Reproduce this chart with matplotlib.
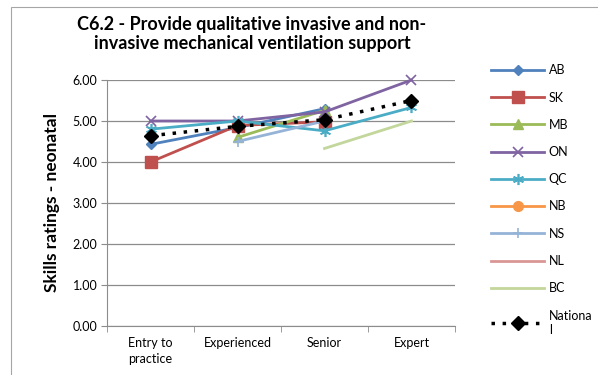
import numpy as np
import matplotlib
matplotlib.use("Agg")
import matplotlib.pyplot as plt
from matplotlib.patches import Rectangle

plt.rcParams['font.family'] = ['Lato', 'DejaVu Sans']

# categories and series
levels = ['Entry to\npractice', 'Experienced', 'Senior', 'Expert']
nan = np.nan
ab = [4.43, 4.84, 5.30, nan]
sk = [4.00, 4.89, 4.98, nan]
mb = [nan, 4.60, 5.26, nan]
on = [5.00, 5.00, 5.22, 6.00]
qc = [4.80, 5.00, 4.76, 5.33]
nb = [nan, nan, nan, nan]
ns = [nan, 4.50, 5.00, nan]
nl = [nan, nan, nan, nan]
bc = [nan, nan, 4.33, 5.00]
national = [4.64, 4.87, 5.03, 5.50]

series = [
    ('AB', ab, '#4F81BD', 'D', 5),
    ('SK', sk, '#C0504D', 's', 8),
    ('MB', mb, '#9BBB59', '^', 7),
    ('ON', on, '#8064A2', 'x', 7),
    ('QC', qc, '#4BACC6', (6, 2, 0), 8),
    ('NB', nb, '#F79646', 'o', 7),
    ('NS', ns, '#95B3D7', '+', 7),
    ('NL', nl, '#D99694', None, 0),
    ('BC', bc, '#C3D69B', None, 0),
]

fig = plt.figure(figsize=(5.98, 3.75), dpi=100)
ax = fig.add_axes([107/598, 1 - 326/375, 348/598, 246/375])

# outer chart border (partly cropped in the original)
fig.patches.append(Rectangle((11/598, -0.05), 1.2, 1 - 7/375 + 0.05,
                             transform=fig.transFigure, fill=False,
                             edgecolor='#A6A6A6', linewidth=0.8))

x = np.arange(len(levels))
for name, vals, col, mk, ms in series:
    ax.plot(x, vals, color=col, linewidth=2, marker=mk, markersize=ms,
            markeredgecolor=col, markeredgewidth=1.2 if mk in ('x', '+') or isinstance(mk, tuple) else 1,
            label=name, clip_on=False)
ax.plot(x, national, color='black', linestyle=(0, (1, 2.2)), linewidth=2.5,
        marker='D', markersize=7, label='Nationa\nl', clip_on=False, zorder=5)

ax.set_xlim(-0.5, 3.5)
ax.set_ylim(0, 6)
ax.set_yticks(np.arange(0, 6.01, 1))
ax.set_yticklabels(['%.2f' % v for v in np.arange(0, 6.01, 1)])
ax.yaxis.grid(True, color='#8C8C8C', linewidth=0.9)
ax.set_axisbelow(True)
ax.set_xticks(x)
ax.set_xticklabels(levels)
ax.set_xticks(np.arange(-0.5, 3.6, 1), minor=True)
ax.tick_params(axis='x', which='major', length=0, labelsize=9, pad=8)
ax.tick_params(axis='x', which='minor', length=4, color='#8C8C8C')
ax.tick_params(axis='y', length=4, color='#8C8C8C', labelsize=9, pad=3)
for lab in ax.get_xticklabels():
    lab.set_linespacing(1.4)
for s in ['top', 'right']:
    ax.spines[s].set_visible(False)
for s in ['left', 'bottom']:
    ax.spines[s].set_color('#8C8C8C')

ax.set_ylabel('Skills ratings - neonatal', fontsize=12.5, fontweight='bold', labelpad=9)

fig.text(252/598, 1 - 34/375,
         'C6.2 - Provide qualitative invasive and non-\ninvasive mechanical ventilation support',
         ha='center', va='center', fontsize=13, fontweight='bold', linespacing=1.2)

leg = ax.legend(loc='upper left', bbox_to_anchor=(480/598, 1 - 53/375),
                bbox_transform=fig.transFigure, frameon=False, fontsize=9,
                handlelength=4.2, labelspacing=1.22, handletextpad=0.4)

fig.savefig('out.png', dpi=100)
